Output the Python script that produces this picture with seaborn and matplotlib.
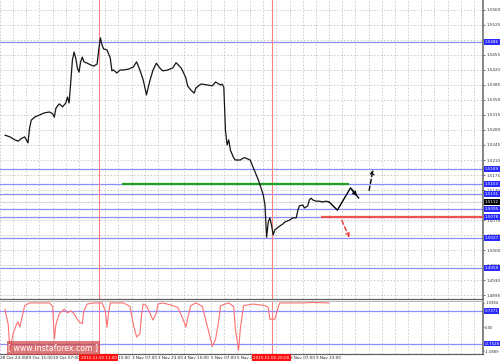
import matplotlib
matplotlib.use("Agg")
import matplotlib.pyplot as plt
import matplotlib.transforms as mtrans
from matplotlib.patches import Rectangle
import seaborn as sns
import pandas as pd

# ---------------- data ----------------
price_bar = [0, 3, 6, 8, 10, 12, 14, 15, 16, 18, 21, 24, 27, 29, 30, 31, 33, 35, 37, 38,
             39, 40, 41, 42, 43, 44, 45, 46, 47, 48, 50, 52, 54, 56, 57, 58, 59, 60, 62, 64,
             65, 66, 68, 70, 72, 75, 78, 80, 82, 84, 86, 87, 88, 90, 92, 94, 96, 99, 102, 104,
             107, 108, 110, 111, 113, 115, 116, 119, 120, 123, 126, 128, 131, 132, 133, 134, 135, 136, 137, 139,
             140, 143, 145, 146, 149, 151, 152, 154, 155, 156, 157, 158, 159, 160, 161, 162, 163, 164, 167, 169,
             170, 173, 175, 177, 178, 179, 181, 182, 184, 185, 186, 187, 189, 191, 193, 195, 197]
price_close = [1.5268, 1.5264, 1.5257, 1.5254, 1.5260, 1.5264, 1.5250, 1.5285, 1.5303, 1.5310,
               1.5315, 1.5320, 1.5322, 1.5318, 1.5310, 1.5331, 1.5341, 1.5334, 1.5343, 1.5357,
               1.5343, 1.5392, 1.5443, 1.5462, 1.5448, 1.5425, 1.5415, 1.5439, 1.5450, 1.5439,
               1.5436, 1.5432, 1.5429, 1.5434, 1.5467, 1.5495, 1.5478, 1.5469, 1.5467, 1.5448,
               1.5418, 1.5420, 1.5413, 1.5420, 1.5420, 1.5422, 1.5427, 1.5439, 1.5420, 1.5397,
               1.5362, 1.5378, 1.5394, 1.5420, 1.5436, 1.5425, 1.5418, 1.5420, 1.5425, 1.5437,
               1.5425, 1.5418, 1.5401, 1.5383, 1.5373, 1.5366, 1.5378, 1.5387, 1.5387, 1.5385,
               1.5383, 1.5392, 1.5385, 1.5387, 1.5380, 1.5280, 1.5245, 1.5257, 1.5233, 1.5215,
               1.5210, 1.5210, 1.5215, 1.5215, 1.5210, 1.5191, 1.5182, 1.5163, 1.5152, 1.5140,
               1.5128, 1.5105, 1.5030, 1.5065, 1.5075, 1.5058, 1.5035, 1.5047, 1.5056, 1.5061,
               1.5065, 1.5070, 1.5075, 1.5075, 1.5093, 1.5103, 1.5105, 1.5098, 1.5103, 1.5117,
               1.5121, 1.5117, 1.5114, 1.5114, 1.5112, 1.5114, 1.5112]

ind_bar = [0, 2, 3, 5, 7, 8, 9, 10, 12, 15, 27, 29, 30, 31, 33, 35, 36, 38, 40, 42,
           45, 47, 48, 50, 54, 59, 61, 62, 63, 64, 72, 76, 78, 80, 82, 83, 84, 86, 88, 90,
           92, 93, 96, 102, 105, 108, 110, 111, 113, 116, 120, 122, 125, 126, 128, 130, 131, 136, 139, 140,
           142, 143, 145, 151, 158, 160, 161, 164, 166, 167, 175, 181, 187, 197]
ind_value = [0.82, 0.12, -1.05, -0.30, 0.12, 0.24, 0.00, 0.32, 0.98, 1.10, 1.10, 0.94, -0.55, 0.12,
             0.61, 0.74, 0.82, 0.65, 0.74, 0.61, 0.24, 0.16, 0.74, 1.05, 1.10, 1.10, 0.74, 0.00,
             0.65, 1.10, 1.10, 0.94, 0.12, -0.45, -0.30, 0.53, 1.05, 0.98, 0.65, 0.32, 0.65, 1.05,
             1.10, 0.98, 0.90, 0.40, 0.00, 0.40, 0.98, 1.10, 0.94, 0.32, -0.55, -0.88, -0.55, 0.32,
             0.98, 1.10, 0.94, -0.09, -1.05, -0.09, 0.98, 1.05, 0.98, 0.90, 0.36, 0.36, 0.90, 1.10,
             1.10, 1.10, 1.12, 1.10]

blue_levels = [1.5486, 1.5189, 1.5153, 1.5131, 1.5095, 1.5078, 1.5027, 1.4958]
blue_labels = ["1.5486", "1.5189", "1.5153", "1.5131", "1.5095", "1.5078", "1.5027", "1.4958"]
current_price = 1.5112
current_label = "1.5112"
green_level, green_start, green_end = 1.5153, 71, 209
red_level, red_start = 1.5078, 192
red_vlines = [57, 162]
red_vline_labels = ["2015.11.02 11:00", "2015.11.06 20:00"]

zig_bar = [197, 202, 210, 215]
zig_price = [1.5112, 1.5093, 1.5145, 1.5121]
up_arrow_bar = [221, 224]
up_arrow_price = [1.5133, 1.5194]
down_arrow_bar = [204, 210]
down_arrow_price = [1.5075, 1.5023]

price_ticks = [1.4895, 1.4930, 1.4965, 1.5000, 1.5035, 1.5070, 1.5140, 1.5175,
               1.5210, 1.5245, 1.5280, 1.5315, 1.5350, 1.5385, 1.5420, 1.5455, 1.5490, 1.5525, 1.5560]
price_tick_labels = ["1.4895", "1.4930", "1.4965", "1.5000", "1.5035", "1.5070", "1.5140", "1.5175",
                     "1.5210", "1.5245", "1.5280", "1.5315", "1.5350", "1.5385", "1.5420", "1.5455",
                     "", "1.5525", "1.5560"]
ind_ticks = [1.0984, 0.0, -1.0889]
ind_tick_labels = ["1.0984", "0.00", "-1.0889"]
ind_levels = [0.7371, -0.7528]
ind_level_labels = ["0.7371", "-0.7528"]

time_bars = [-3, 13, 29, 61, 77, 93, 109, 125, 141, 173, 189]
time_labels = ["28 Oct 23:00", "29 Oct 15:00", "30 Oct 07:00", "2 Nov 15:00", "3 Nov 07:00",
               "3 Nov 23:00", "4 Nov 15:00", "5 Nov 07:00", "5 Nov 23:00", "9 Nov 07:00", "9 Nov 23:00"]

# ---------------- figure ----------------
sns.set_theme(style="white")
plt.rcParams["font.family"] = ["DejaVu Sans"]

W, H = 500, 363
fig = plt.figure(figsize=(W / 100, H / 100), dpi=100)
fig.patch.set_facecolor("white")
ax = fig.add_axes([0, 1 - 299 / H, 483 / W, 299 / H])
axi = fig.add_axes([0, 1 - 354 / H, 483 / W, 53 / H])

XMAX = 290.5
grid_kw = dict(color="#c8c8c8", linestyle=(0, (2, 2)), linewidth=0.6)
for a in (ax, axi):
    a.set_facecolor("white")
    a.set_xlim(0, XMAX)
    a.set_xticks(list(range(-3, 292, 8)))
    a.tick_params(axis="x", length=0, labelbottom=False)
    a.grid(True, axis="x", **grid_kw)
    for s in ("left", "top"):
        a.spines[s].set_visible(False)
    a.spines["right"].set_color("#707070")
    a.spines["right"].set_linewidth(1.2)
    a.spines["bottom"].set_color("#606060")
    a.spines["bottom"].set_linewidth(0.9)

axi.spines["top"].set_visible(True)
axi.spines["top"].set_color("#b0b0b0")
axi.spines["top"].set_linewidth(0.6)

# main panel
ax.set_ylim(1.48857, 1.55833)
ax.yaxis.tick_right()
ax.set_yticks(price_ticks)
ax.set_yticklabels(price_tick_labels)
ax.tick_params(axis="y", length=1.5, width=0.5, pad=1, labelsize=3, colors="#333333")
ax.grid(True, axis="y", **grid_kw)

for lv in blue_levels:
    ax.axhline(lv, color="#8c8cff", linewidth=0.9, zorder=2)
ax.axhline(current_price, color="#d8d8d8", linewidth=0.8, zorder=2)
ax.hlines(green_level, green_start, green_end, color="#1fa01f", linewidth=1.6, zorder=3)
ax.hlines(red_level, red_start, XMAX, color="#f05050", linewidth=1.6, zorder=3)
for vb in red_vlines:
    ax.axvline(vb, color="#ff8080", linewidth=0.8, zorder=2)
    axi.axvline(vb, color="#ff8080", linewidth=0.8, zorder=2)

df = pd.DataFrame({"bar": price_bar, "close": price_close})
sns.lineplot(data=df, x="bar", y="close", ax=ax, color="#151515", linewidth=0.9,
             estimator=None, sort=False, zorder=4)

zz = pd.DataFrame({"bar": zig_bar, "price": zig_price})
sns.lineplot(data=zz, x="bar", y="price", ax=ax, color="black", linewidth=1.0,
             estimator=None, sort=False, zorder=5)
ax.annotate("", xy=(zig_bar[-1], zig_price[-1]), xytext=(zig_bar[-2], zig_price[-2]),
            arrowprops=dict(arrowstyle="->", color="black", lw=1.0, mutation_scale=6), zorder=5)
ax.annotate("", xy=(up_arrow_bar[1], up_arrow_price[1]), xytext=(up_arrow_bar[0], up_arrow_price[0]),
            arrowprops=dict(arrowstyle="->", color="black", lw=1.0, linestyle=(0, (3, 2)),
                            mutation_scale=6), zorder=5)
ax.annotate("", xy=(down_arrow_bar[1], down_arrow_price[1]), xytext=(down_arrow_bar[0], down_arrow_price[0]),
            arrowprops=dict(arrowstyle="->", color="#f03030", lw=1.0, linestyle=(0, (3, 2)),
                            mutation_scale=6), zorder=5)
ax.set_xlabel("")
ax.set_ylabel("")

tr_main = mtrans.blended_transform_factory(ax.transAxes, ax.transData)
for lv, lab in zip(blue_levels, blue_labels):
    ax.text(1.004, lv, lab, transform=tr_main, fontsize=3, color="white", ha="left", va="center",
            clip_on=False, zorder=10,
            bbox=dict(boxstyle="square,pad=0.25", fc="#2a2aff", ec="none"))
ax.text(1.004, current_price, current_label, transform=tr_main, fontsize=3, color="white",
        ha="left", va="center", clip_on=False, zorder=10,
        bbox=dict(boxstyle="square,pad=0.25", fc="black", ec="none"))

# indicator panel
axi.set_ylim(-1.223, 1.188)
axi.yaxis.tick_right()
axi.set_yticks(ind_ticks)
axi.set_yticklabels(ind_tick_labels)
axi.tick_params(axis="y", length=1.0, width=0.5, pad=0.6, labelsize=2.7, colors="#333333")
axi.set_yticks([0.0], minor=True)
axi.tick_params(axis="y", which="minor", length=0)
axi.grid(True, axis="y", which="minor", **grid_kw)
for lv in ind_levels:
    axi.axhline(lv, color="#8c8cff", linewidth=0.9, zorder=2)
di = pd.DataFrame({"bar": ind_bar, "value": ind_value})
sns.lineplot(data=di, x="bar", y="value", ax=axi, color="#ff7070", linewidth=0.8,
             estimator=None, sort=False, zorder=4)
axi.set_xlabel("")
axi.set_ylabel("")
tr_ind = mtrans.blended_transform_factory(axi.transAxes, axi.transData)
for lv, lab in zip(ind_levels, ind_level_labels):
    axi.text(1.004, lv, lab, transform=tr_ind, fontsize=2.8, color="white", ha="left", va="center",
             clip_on=False, zorder=10,
             bbox=dict(boxstyle="square,pad=0.2", fc="#2a2aff", ec="none"))

# time axis labels
tr_time = mtrans.blended_transform_factory(axi.transData, axi.transAxes)
for b, lab in zip(time_bars, time_labels):
    axi.text(b, -0.07, lab, transform=tr_time, fontsize=3, color="#222222",
             ha="left", va="center", clip_on=False)
for b, lab in zip(red_vlines, red_vline_labels):
    axi.text(b, -0.07, lab, transform=tr_time, fontsize=3, color="white", ha="center", va="center",
             clip_on=False, zorder=10,
             bbox=dict(boxstyle="square,pad=0.3", fc="#ff1010", ec="none"))

# watermark
fig.patches.append(Rectangle((7 / W, 1 - 355 / H), 93 / W, 14 / H, transform=fig.transFigure,
                             fc=(0.82, 0.25, 0.25, 0.7), ec="none", zorder=20))
fig.text(53 / W, 1 - 348 / H, "[ www.instaforex.com ]", color="white", fontsize=5.6,
         ha="center", va="center", zorder=21)

fig.savefig("out.png", dpi=100)
